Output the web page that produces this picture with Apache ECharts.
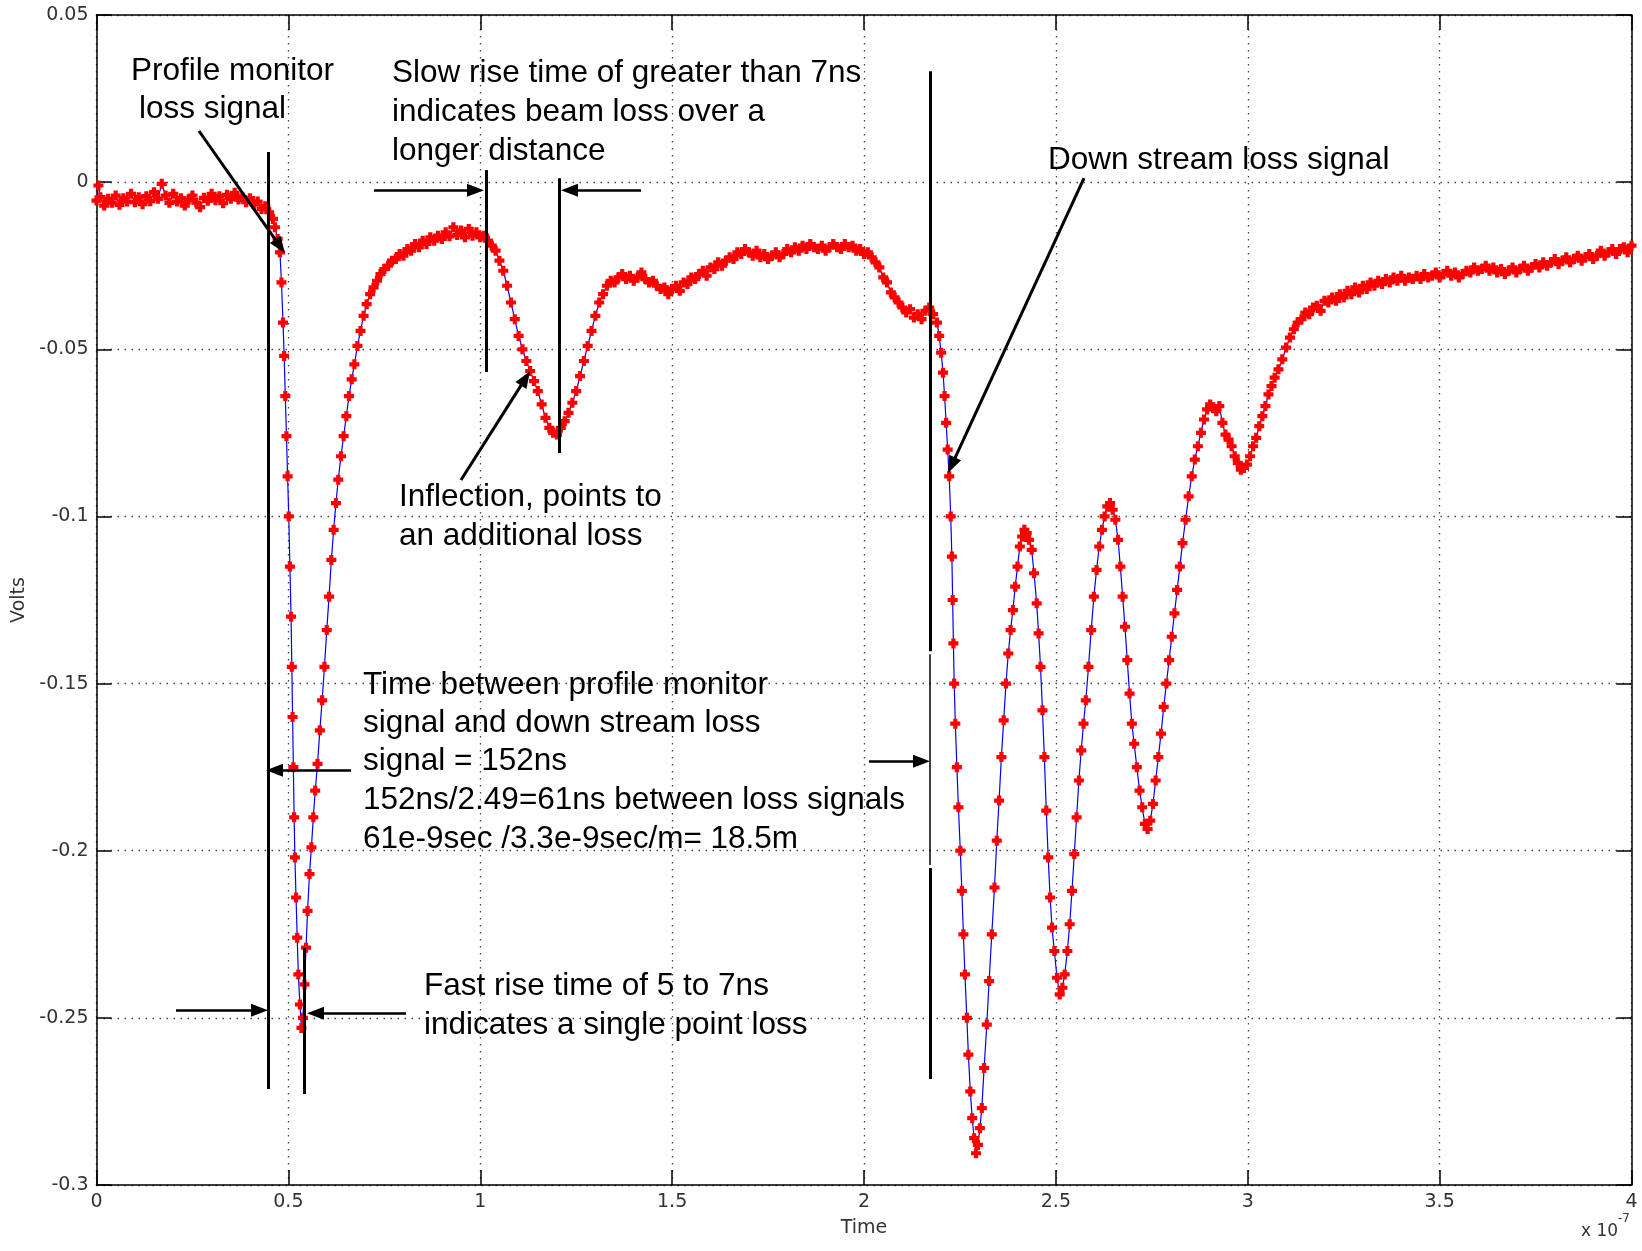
<!DOCTYPE html>
<html>
<head>
<meta charset="utf-8">
<script src="https://cdn.jsdelivr.net/npm/echarts@6/dist/echarts.min.js"></script>
<style>
  html, body { margin: 0; padding: 0; background: #fff; }
  #chart { width: 1642px; height: 1251px; }
</style>
</head>
<body>
<div id="chart"></div>
<script>
// time in units of 1e-7 s, signal in volts
var xRange = [0, 4, 0.5];
var yRange = [-0.3, 0.05, 0.05];

var baseline = [
  [0.000,-0.0055],[0.005,-0.0010],[0.010,-0.0045],[0.020,-0.0070],[0.030,-0.0050],[0.040,-0.0062],
  [0.050,-0.0040],[0.060,-0.0068],[0.070,-0.0048],[0.080,-0.0058],[0.090,-0.0035],[0.100,-0.0060],
  [0.110,-0.0045],[0.120,-0.0066],[0.130,-0.0042],[0.140,-0.0057],[0.150,-0.0030],[0.160,-0.0050],
  [0.170,-0.0005],[0.180,-0.0040],[0.190,-0.0062],[0.200,-0.0035],[0.210,-0.0058],[0.220,-0.0048],
  [0.230,-0.0070],[0.240,-0.0052],[0.250,-0.0040],[0.260,-0.0061],[0.270,-0.0075],[0.280,-0.0047],
  [0.290,-0.0056],[0.300,-0.0035],[0.310,-0.0054],[0.320,-0.0042],[0.330,-0.0063],[0.340,-0.0038],
  [0.350,-0.0050],[0.360,-0.0032],[0.370,-0.0052],[0.380,-0.0045],[0.390,-0.0060],[0.400,-0.0048],
  [0.410,-0.0066],[0.420,-0.0058],[0.430,-0.0080],[0.440,-0.0072],[0.450,-0.0090],[0.460,-0.0110]
];

var firstLoss = [
  [0.465,-0.0135],[0.472,-0.0170],[0.478,-0.0210],[0.482,-0.0300],[0.486,-0.0420],[0.489,-0.0520],
  [0.492,-0.0640],[0.495,-0.0760],[0.498,-0.0880],[0.501,-0.1000],[0.504,-0.1150],[0.507,-0.1300],
  [0.509,-0.1450],[0.511,-0.1600],[0.513,-0.1750],[0.515,-0.1900],[0.517,-0.2020],[0.520,-0.2140],
  [0.523,-0.2260],[0.526,-0.2370],[0.530,-0.2460],[0.534,-0.2530],[0.538,-0.2500],[0.542,-0.2400],
  [0.546,-0.2290],[0.550,-0.2180],[0.555,-0.2070],[0.560,-0.1990],[0.565,-0.1900],[0.570,-0.1820],
  [0.576,-0.1740],[0.582,-0.1640],[0.588,-0.1550],[0.594,-0.1450],[0.600,-0.1340],[0.606,-0.1240],
  [0.612,-0.1130],[0.618,-0.1040],[0.624,-0.0960],[0.630,-0.0890],[0.637,-0.0820],[0.644,-0.0760],
  [0.651,-0.0700],[0.658,-0.0640],[0.665,-0.0590],[0.672,-0.0545],[0.680,-0.0490],[0.688,-0.0445],
  [0.696,-0.0400],[0.704,-0.0365],[0.713,-0.0335],[0.722,-0.0315],[0.731,-0.0295],[0.740,-0.0275],
  [0.750,-0.0260],[0.760,-0.0250],[0.770,-0.0235],[0.780,-0.0230],[0.790,-0.0215],[0.800,-0.0220],
  [0.810,-0.0200],[0.820,-0.0205],[0.830,-0.0185],[0.840,-0.0195],[0.850,-0.0175],[0.860,-0.0185],
  [0.870,-0.0165],[0.880,-0.0175],[0.890,-0.0160],[0.900,-0.0170],[0.910,-0.0150],[0.920,-0.0162],
  [0.930,-0.0135],[0.940,-0.0158],[0.950,-0.0145],[0.960,-0.0165],[0.970,-0.0140],[0.980,-0.0160],
  [0.990,-0.0150],[1.000,-0.0165]
];

var middle = [
  [1.010,-0.0160],[1.020,-0.0175],[1.030,-0.0190],[1.040,-0.0205],[1.050,-0.0235],[1.060,-0.0265],
  [1.070,-0.0310],[1.080,-0.0360],[1.090,-0.0410],[1.100,-0.0460],[1.110,-0.0500],[1.120,-0.0535],
  [1.130,-0.0565],[1.140,-0.0595],[1.150,-0.0625],[1.160,-0.0665],[1.170,-0.0705],[1.180,-0.0735],
  [1.190,-0.0750],[1.200,-0.0755],[1.210,-0.0735],[1.220,-0.0715],[1.230,-0.0690],[1.240,-0.0660],
  [1.250,-0.0625],[1.260,-0.0580],[1.270,-0.0535],[1.280,-0.0490],[1.290,-0.0445],[1.300,-0.0400],
  [1.310,-0.0360],[1.320,-0.0335],[1.330,-0.0310],[1.340,-0.0295],[1.350,-0.0300],[1.360,-0.0285],
  [1.370,-0.0275],[1.380,-0.0290],[1.390,-0.0280],[1.400,-0.0295],[1.410,-0.0285],[1.420,-0.0270],
  [1.430,-0.0290],[1.440,-0.0300],[1.450,-0.0295],[1.460,-0.0310],[1.470,-0.0320],[1.480,-0.0315],
  [1.490,-0.0335],[1.500,-0.0320],[1.510,-0.0310],[1.520,-0.0325],[1.530,-0.0300],[1.540,-0.0305],
  [1.550,-0.0285],[1.560,-0.0290],[1.570,-0.0275],[1.580,-0.0265],[1.590,-0.0280],[1.600,-0.0255],
  [1.610,-0.0260],[1.620,-0.0240],[1.630,-0.0250],[1.640,-0.0235],[1.650,-0.0225],[1.660,-0.0230],
  [1.670,-0.0210],[1.680,-0.0215],[1.690,-0.0200],[1.700,-0.0210],[1.710,-0.0220],[1.720,-0.0205],
  [1.730,-0.0225],[1.740,-0.0215],[1.750,-0.0230],[1.760,-0.0220],[1.770,-0.0210],[1.780,-0.0225],
  [1.790,-0.0215],[1.800,-0.0200],[1.810,-0.0210],[1.820,-0.0195],[1.830,-0.0205],[1.840,-0.0190],
  [1.850,-0.0200],[1.860,-0.0185],[1.870,-0.0195],[1.880,-0.0200],[1.890,-0.0190],[1.900,-0.0205],
  [1.910,-0.0195],[1.920,-0.0185],[1.930,-0.0195],[1.940,-0.0200],[1.950,-0.0185],[1.960,-0.0195],
  [1.970,-0.0190],[1.980,-0.0205],[1.990,-0.0200],[2.000,-0.0215],[2.010,-0.0210],[2.020,-0.0225],
  [2.030,-0.0240],[2.040,-0.0255],[2.050,-0.0285],[2.060,-0.0300],[2.070,-0.0330],[2.080,-0.0345],
  [2.090,-0.0360],[2.100,-0.0375],[2.110,-0.0390],[2.120,-0.0380],[2.130,-0.0405],[2.140,-0.0395],
  [2.150,-0.0410],[2.160,-0.0385],[2.170,-0.0375],[2.180,-0.0395],[2.190,-0.0420],[2.196,-0.0460],
  [2.201,-0.0510],[2.206,-0.0570],[2.210,-0.0640],[2.214,-0.0720],[2.218,-0.0800],[2.222,-0.0880]
];

var downstream = [
  [2.226,-0.1000],[2.229,-0.1120],[2.231,-0.1250],[2.233,-0.1380],[2.235,-0.1500],[2.238,-0.1620],
  [2.242,-0.1750],[2.246,-0.1870],[2.251,-0.2000],[2.255,-0.2120],[2.259,-0.2250],[2.263,-0.2370],
  [2.268,-0.2500],[2.272,-0.2610],[2.277,-0.2720],[2.282,-0.2800],[2.287,-0.2860],[2.292,-0.2905],
  [2.297,-0.2880],[2.302,-0.2830],[2.307,-0.2770],[2.313,-0.2650],[2.320,-0.2520],[2.326,-0.2390],
  [2.333,-0.2250],[2.340,-0.2110],[2.346,-0.1970],[2.352,-0.1850],[2.358,-0.1720],[2.364,-0.1610],
  [2.370,-0.1500],[2.376,-0.1410],[2.382,-0.1340],[2.388,-0.1280],[2.394,-0.1210],[2.400,-0.1150],
  [2.406,-0.1090],[2.412,-0.1060],[2.418,-0.1040],[2.424,-0.1050],[2.430,-0.1070],[2.437,-0.1100],
  [2.443,-0.1170],[2.450,-0.1260],[2.455,-0.1350],[2.460,-0.1450],[2.465,-0.1580],[2.470,-0.1720],
  [2.475,-0.1880],[2.480,-0.2020],[2.485,-0.2140],[2.490,-0.2230],[2.496,-0.2300],[2.503,-0.2380],
  [2.510,-0.2430],[2.517,-0.2410],[2.523,-0.2370],[2.530,-0.2300],[2.536,-0.2220],[2.542,-0.2120],
  [2.548,-0.2010],[2.554,-0.1900],[2.560,-0.1790],[2.566,-0.1700],[2.572,-0.1620],[2.578,-0.1550],
  [2.585,-0.1450],[2.592,-0.1340],[2.599,-0.1240],[2.606,-0.1160],[2.613,-0.1090],[2.620,-0.1040],
  [2.627,-0.1000],[2.634,-0.0970],[2.641,-0.0960],[2.648,-0.0980],[2.655,-0.1010],[2.662,-0.1070],
  [2.668,-0.1150],[2.674,-0.1240],[2.680,-0.1330],[2.686,-0.1430],[2.692,-0.1530],[2.698,-0.1620],
  [2.704,-0.1680],[2.711,-0.1750],[2.718,-0.1820],[2.725,-0.1870],[2.732,-0.1920],[2.739,-0.1935],
  [2.746,-0.1910],[2.753,-0.1860],[2.760,-0.1790],[2.767,-0.1720],[2.774,-0.1650],[2.781,-0.1570],
  [2.788,-0.1500],[2.795,-0.1430],[2.802,-0.1360],[2.809,-0.1290],[2.816,-0.1220],[2.823,-0.1150],
  [2.830,-0.1080],[2.838,-0.1010],[2.846,-0.0940],[2.854,-0.0880],[2.862,-0.0830],[2.870,-0.0790],
  [2.878,-0.0750],[2.886,-0.0710],[2.894,-0.0680],[2.902,-0.0665],[2.910,-0.0675],[2.918,-0.0685],
  [2.926,-0.0670],[2.934,-0.0720],[2.942,-0.0755],[2.950,-0.0770],[2.958,-0.0790],[2.966,-0.0820],
  [2.974,-0.0840],[2.982,-0.0860],[2.990,-0.0855],[2.998,-0.0845],[3.006,-0.0820],[3.014,-0.0790],
  [3.022,-0.0765],[3.030,-0.0730],[3.038,-0.0700],[3.046,-0.0670],[3.054,-0.0635],[3.062,-0.0610],
  [3.070,-0.0585]
];

var tail = [
  [3.080,-0.0560],[3.090,-0.0530],[3.100,-0.0495],[3.110,-0.0465],[3.120,-0.0440],[3.130,-0.0420],
  [3.140,-0.0410],[3.150,-0.0390],[3.160,-0.0395],[3.170,-0.0375],[3.180,-0.0370],[3.190,-0.0385],
  [3.200,-0.0355],[3.210,-0.0360],[3.220,-0.0345],[3.230,-0.0355],[3.240,-0.0335],[3.250,-0.0345],
  [3.260,-0.0325],[3.270,-0.0335],[3.280,-0.0315],[3.290,-0.0330],[3.300,-0.0310],[3.310,-0.0320],
  [3.320,-0.0300],[3.330,-0.0310],[3.340,-0.0295],[3.350,-0.0305],[3.360,-0.0290],[3.370,-0.0300],
  [3.380,-0.0285],[3.390,-0.0295],[3.400,-0.0280],[3.410,-0.0295],[3.420,-0.0285],[3.430,-0.0290],
  [3.440,-0.0280],[3.450,-0.0290],[3.460,-0.0275],[3.470,-0.0285],[3.480,-0.0280],[3.490,-0.0270],
  [3.500,-0.0285],[3.510,-0.0275],[3.520,-0.0265],[3.530,-0.0280],[3.540,-0.0270],[3.550,-0.0285],
  [3.560,-0.0275],[3.570,-0.0265],[3.580,-0.0270],[3.590,-0.0255],[3.600,-0.0265],[3.610,-0.0260],
  [3.620,-0.0250],[3.630,-0.0265],[3.640,-0.0255],[3.650,-0.0270],[3.660,-0.0260],[3.670,-0.0275],
  [3.680,-0.0265],[3.690,-0.0255],[3.700,-0.0270],[3.710,-0.0260],[3.720,-0.0250],[3.730,-0.0265],
  [3.740,-0.0255],[3.750,-0.0245],[3.760,-0.0255],[3.770,-0.0240],[3.780,-0.0250],[3.790,-0.0240],
  [3.800,-0.0230],[3.810,-0.0245],[3.820,-0.0235],[3.830,-0.0225],[3.840,-0.0240],[3.850,-0.0230],
  [3.860,-0.0220],[3.870,-0.0235],[3.880,-0.0225],[3.890,-0.0215],[3.900,-0.0230],[3.910,-0.0220],
  [3.920,-0.0205],[3.930,-0.0220],[3.940,-0.0210],[3.950,-0.0200],[3.960,-0.0215],[3.970,-0.0200],
  [3.980,-0.0195],[3.990,-0.0210],[4.000,-0.0190]
];

var signal = baseline.concat(firstLoss, middle, downstream, tail);

// annotation strokes: [t1, v1, t2, v2, arrowAtEnd, width]
var strokes = [
  [0.2671, 0.0153, 0.4784, -0.0192, true, 3],
  [0.4469, 0.0090, 0.4469, -0.2713, false, 3],
  [0.5407, -0.2291, 0.5407, -0.2728, false, 3],
  [0.2072, -0.2477, 0.4248, -0.2477, true, 2.5],
  [0.8065, -0.2486, 0.5707, -0.2486, true, 2.5],
  [0.6632, -0.1759, 0.4638, -0.1759, true, 2.5],
  [2.0130, -0.1732, 2.1498, -0.1732, true, 2.5],
  [2.1720, 0.0332, 2.1720, -0.1403, false, 3],
  [2.1720, -0.1412, 2.1720, -0.2043, false, 1.5],
  [2.1720, -0.2052, 2.1720, -0.2683, false, 3],
  [2.5733, 0.0012, 2.2283, -0.0847, true, 3],
  [0.7231, -0.0024, 0.9876, -0.0024, true, 2.5],
  [1.0150, 0.0036, 1.0150, -0.0568, false, 3],
  [1.4189, -0.0024, 1.2326, -0.0024, true, 2.5],
  [1.2052, 0.0012, 1.2052, -0.0810, false, 3],
  [0.9498, -0.0891, 1.1179, -0.0587, true, 3]
];

// text notes: [left px, centre px, text]
var notes = [
  [131, 71, 'Profile monitor'],
  [139, 109, 'loss signal'],
  [392, 73, 'Slow rise time of greater than 7ns'],
  [392, 112, 'indicates beam loss over a'],
  [392, 151, 'longer distance'],
  [1048, 160, 'Down stream loss signal'],
  [399, 497, 'Inflection, points to'],
  [399, 536, 'an additional loss'],
  [363, 685, 'Time between profile monitor'],
  [363, 723, 'signal and down stream loss'],
  [363, 761, 'signal = 152ns'],
  [363, 800, '152ns/2.49=61ns between loss signals'],
  [363, 839, '61e-9sec /3.3e-9sec/m= 18.5m'],
  [424, 986, 'Fast rise time of 5 to 7ns'],
  [424, 1025, 'indicates a single point loss']
];

var plusPath = 'path://M2.9,0H7.1V2.9H10V7.1H7.1V10H2.9V7.1H0V2.9H2.9Z';
var tickFont = {color: '#333', fontSize: 19, fontFamily: 'DejaVu Sans'};

function sideAxis(range, pos) {
  return {
    type: 'value', position: pos, min: range[0], max: range[1], interval: range[2],
    axisLine: {show: true, onZero: false, lineStyle: {color: '#000', width: 1.5}},
    axisTick: {show: true, inside: true, length: 15, lineStyle: {color: '#000', width: 1.5}},
    axisLabel: {show: false},
    splitLine: {show: false}
  };
}

function drawChart(dom) {
  var lines = strokes.map(function (s) {
    var ls = {color: '#000', width: s[5], type: 'solid'};
    return [
      {coord: [s[0], s[1]], symbol: 'none', lineStyle: ls},
      {coord: [s[2], s[3]], symbol: s[4] ? 'triangle' : 'none', lineStyle: ls}
    ];
  });

  var graphics = notes.map(function (n) {
    return {
      type: 'text', x: n[0], y: n[1], z: 10,
      style: {
        text: n[2], fill: '#000', fontSize: 31.5,
        fontFamily: 'Liberation Sans, Arial, sans-serif',
        align: 'left', verticalAlign: 'middle'
      }
    };
  });
  graphics.push({
    type: 'text', x: 1581, y: 1232,
    style: {text: 'x 10', fill: '#333', fontSize: 17, fontFamily: 'DejaVu Sans', verticalAlign: 'middle'}
  });
  graphics.push({
    type: 'text', x: 1618, y: 1219,
    style: {text: '-7', fill: '#333', fontSize: 12, fontFamily: 'DejaVu Sans', verticalAlign: 'middle'}
  });

  var option = {
    animation: false,
    backgroundColor: '#fff',
    grid: {left: 96.5, top: 15, right: 10.5, bottom: 66, containLabel: false, outerBoundsMode: 'none'},
    xAxis: [
      {
        type: 'value', position: 'bottom', min: xRange[0], max: xRange[1], interval: xRange[2],
        name: 'Time', nameLocation: 'middle', nameGap: 34,
        nameTextStyle: tickFont,
        axisLine: {show: true, onZero: false, lineStyle: {color: '#000', width: 1.5}},
        axisTick: {show: true, inside: true, length: 15, lineStyle: {color: '#000', width: 1.5}},
        axisLabel: {
          show: true, margin: 8, color: tickFont.color, fontSize: tickFont.fontSize, fontFamily: tickFont.fontFamily,
          formatter: function (v) { return String(Math.round(v * 10) / 10); }
        },
        splitLine: {show: true, lineStyle: {color: '#444', width: 1.3, type: [1.5, 5.5]}}
      },
      sideAxis(xRange, 'top')
    ],
    yAxis: [
      {
        type: 'value', position: 'left', min: yRange[0], max: yRange[1], interval: yRange[2],
        name: 'Volts', nameLocation: 'middle', nameGap: 66, nameRotate: 90,
        nameTextStyle: tickFont,
        axisLine: {show: true, onZero: false, lineStyle: {color: '#000', width: 1.5}},
        axisTick: {show: true, inside: true, length: 15, lineStyle: {color: '#000', width: 1.5}},
        axisLabel: {
          show: true, margin: 8, color: tickFont.color, fontSize: tickFont.fontSize, fontFamily: tickFont.fontFamily,
          formatter: function (v) { return String(Math.round(v * 100) / 100); }
        },
        splitLine: {show: true, lineStyle: {color: '#444', width: 1.3, type: [1.5, 5.5]}}
      },
      sideAxis(yRange, 'right')
    ],
    series: [
      {
        name: 'signal',
        type: 'line',
        data: signal,
        showAllSymbol: true,
        symbol: plusPath,
        symbolSize: 10,
        itemStyle: {color: '#ff0000'},
        lineStyle: {color: '#0000ff', width: 1.2},
        z: 3,
        markLine: {
          silent: true,
          symbol: ['none', 'none'],
          symbolSize: [13, 17],
          label: {show: false},
          emphasis: {disabled: true},
          itemStyle: {color: '#000'},
          lineStyle: {color: '#000', width: 3, type: 'solid'},
          data: lines
        }
      }
    ],
    graphic: graphics
  };
  var myChart = echarts.init(dom);
  myChart.setOption(option);
}

drawChart(document.getElementById('chart'));
</script>
</body>
</html>
